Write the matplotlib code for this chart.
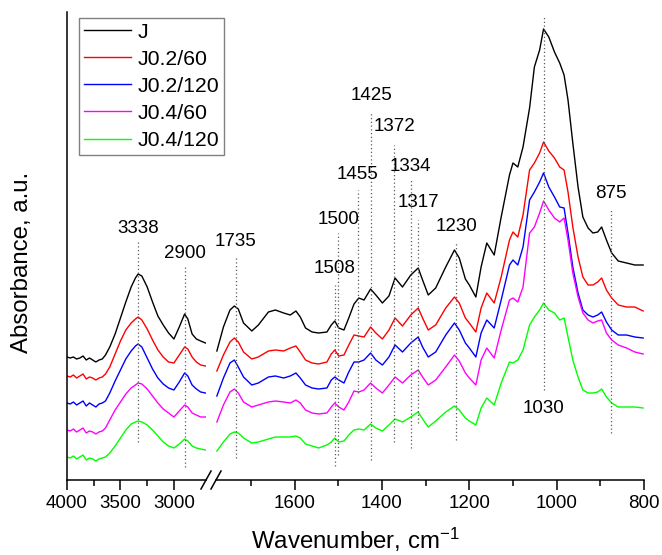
import matplotlib.pyplot as plt
from matplotlib.lines import Line2D
from matplotlib.ticker import FixedLocator

plt.rcParams['font.family'] = 'Liberation Sans'
plt.rcParams['mathtext.fontset'] = 'custom'
plt.rcParams['mathtext.rm'] = 'Liberation Sans'
plt.rcParams['mathtext.it'] = 'Liberation Sans'

# ---- data (absorbance, a.u.) ----
labels = ['J', 'J0.2/60', 'J0.2/120', 'J0.4/60', 'J0.4/120']
colors = ['black', '#ff0000', '#0000ff', '#ff00ff', '#00ff00']

# high wavenumber part (4000 - 2700 cm-1)
wn_left = [4000, 3970, 3940, 3910, 3880, 3850, 3820, 3790, 3760, 3730, 3700, 3670,
           3640, 3600, 3550, 3500, 3450, 3400, 3360, 3335, 3300, 3250,
           3200, 3150, 3100, 3050, 3000, 2950, 2900, 2870, 2830, 2790, 2750, 2705]

J_left = [1.23, 1.22, 1.23, 1.21, 1.22, 1.24, 1.20, 1.22, 1.20, 1.18, 1.20, 1.21,
          1.25, 1.33, 1.46, 1.62, 1.78, 1.93, 2.02, 2.06, 2.04, 1.93,
          1.78, 1.64, 1.55, 1.47, 1.41, 1.53, 1.66, 1.61, 1.46, 1.41, 1.39, 1.37]
J0260_left = [1.04, 1.03, 1.05, 1.02, 1.04, 1.06, 1.01, 1.03, 1.02, 1.00, 1.02, 1.03,
              1.06, 1.13, 1.26, 1.39, 1.50, 1.57, 1.61, 1.63, 1.60, 1.51,
              1.40, 1.30, 1.23, 1.18, 1.17, 1.25, 1.33, 1.31, 1.23, 1.18, 1.15, 1.14]
J02120_left = [0.77, 0.76, 0.78, 0.75, 0.77, 0.79, 0.74, 0.77, 0.75, 0.73, 0.76, 0.77,
               0.79, 0.87, 0.99, 1.10, 1.21, 1.29, 1.34, 1.36, 1.33, 1.22,
               1.11, 1.02, 0.96, 0.92, 0.90, 0.98, 1.07, 1.04, 0.95, 0.91, 0.88, 0.87]
J0460_left = [0.50, 0.49, 0.51, 0.48, 0.50, 0.52, 0.47, 0.49, 0.48, 0.46, 0.48, 0.49,
              0.52, 0.60, 0.70, 0.78, 0.86, 0.92, 0.95, 0.97, 0.96, 0.91,
              0.84, 0.77, 0.71, 0.67, 0.63, 0.69, 0.75, 0.73, 0.67, 0.65, 0.63, 0.63]
J04120_left = [0.23, 0.22, 0.24, 0.21, 0.23, 0.25, 0.20, 0.22, 0.21, 0.19, 0.21, 0.22,
               0.23, 0.27, 0.34, 0.42, 0.50, 0.56, 0.58, 0.59, 0.58, 0.55,
               0.50, 0.44, 0.38, 0.34, 0.32, 0.36, 0.41, 0.39, 0.34, 0.32, 0.31, 0.30]

# fingerprint part (1780 - 800 cm-1)
wn_right = [1778, 1763, 1748, 1738, 1729, 1717, 1698, 1683, 1660, 1644,
            1625, 1610, 1597, 1587, 1575, 1560, 1545, 1526, 1516, 1508,
            1499, 1487, 1476, 1464, 1453, 1441, 1426, 1414, 1399, 1384,
            1370, 1353, 1334, 1317, 1307, 1294, 1277, 1254, 1234, 1223,
            1209, 1200, 1185, 1173, 1160, 1143, 1127, 1108, 1100, 1089,
            1077, 1062, 1051, 1039, 1030, 1018, 1005, 993, 983, 974,
            963, 951, 940, 928, 917, 906, 897, 886, 874, 859,
            840, 821, 802]

J_right = [1.29, 1.53, 1.70, 1.74, 1.71, 1.57, 1.49, 1.55, 1.68, 1.70,
           1.67, 1.65, 1.69, 1.63, 1.52, 1.48, 1.47, 1.48, 1.55, 1.59,
           1.52, 1.50, 1.62, 1.76, 1.82, 1.80, 1.91, 1.85, 1.77, 1.84,
           2.02, 1.93, 2.05, 2.12, 2.00, 1.85, 1.92, 2.13, 2.30, 2.22,
           2.01, 1.95, 1.83, 2.13, 2.37, 2.25, 2.63, 3.05, 3.17, 3.13,
           3.33, 3.72, 4.13, 4.30, 4.51, 4.43, 4.28, 4.17, 4.05, 3.80,
           3.37, 2.93, 2.63, 2.52, 2.47, 2.48, 2.53, 2.40, 2.27, 2.19,
           2.17, 2.15, 2.15]
J0260_right = [1.09, 1.25, 1.38, 1.42, 1.38, 1.28, 1.21, 1.23, 1.29, 1.30,
               1.29, 1.32, 1.34, 1.28, 1.20, 1.17, 1.16, 1.18, 1.26, 1.30,
               1.24, 1.25, 1.35, 1.45, 1.44, 1.43, 1.53, 1.47, 1.41, 1.50,
               1.62, 1.54, 1.65, 1.72, 1.62, 1.50, 1.55, 1.72, 1.83, 1.77,
               1.62, 1.57, 1.48, 1.72, 1.87, 1.77, 2.03, 2.40, 2.48, 2.43,
               2.65, 3.10, 3.17, 3.27, 3.38, 3.29, 3.22, 3.13, 3.10, 2.88,
               2.53, 2.23, 2.03, 1.95, 1.95, 1.98, 2.02, 1.90, 1.82, 1.75,
               1.73, 1.73, 1.69]
J02120_right = [0.84, 1.02, 1.17, 1.20, 1.13, 1.03, 0.95, 0.97, 1.03, 1.04,
                1.02, 1.04, 1.07, 1.02, 0.95, 0.92, 0.91, 0.92, 1.00, 1.03,
                1.00, 0.97, 1.08, 1.18, 1.18, 1.20, 1.27, 1.20, 1.15, 1.23,
                1.35, 1.28, 1.37, 1.43, 1.33, 1.23, 1.28, 1.45, 1.57, 1.50,
                1.37, 1.32, 1.23, 1.47, 1.60, 1.52, 1.80, 2.15, 2.20, 2.15,
                2.33, 2.80, 2.88, 2.98, 3.07, 2.93, 2.83, 2.73, 2.72, 2.47,
                2.13, 1.87, 1.70, 1.65, 1.63, 1.65, 1.68, 1.58, 1.50, 1.45,
                1.45, 1.43, 1.42]
J0460_right = [0.58, 0.75, 0.88, 0.91, 0.87, 0.78, 0.73, 0.75, 0.78, 0.79,
               0.78, 0.77, 0.80, 0.77, 0.70, 0.67, 0.66, 0.67, 0.73, 0.77,
               0.73, 0.70, 0.78, 0.89, 0.88, 0.90, 0.97, 0.92, 0.87, 0.95,
               1.03, 0.97, 1.05, 1.10, 1.03, 0.95, 1.00, 1.13, 1.25, 1.19,
               1.07, 1.02, 0.95, 1.20, 1.32, 1.22, 1.50, 1.80, 1.82, 1.78,
               1.93, 2.47, 2.53, 2.67, 2.79, 2.70, 2.62, 2.58, 2.62, 2.40,
               2.07, 1.83, 1.67, 1.60, 1.57, 1.59, 1.60, 1.47, 1.40, 1.35,
               1.32, 1.28, 1.26]
J04120_right = [0.29, 0.38, 0.46, 0.48, 0.47, 0.42, 0.37, 0.38, 0.41, 0.43,
                0.43, 0.43, 0.44, 0.42, 0.36, 0.34, 0.32, 0.35, 0.38, 0.42,
                0.38, 0.39, 0.45, 0.50, 0.51, 0.50, 0.56, 0.52, 0.49, 0.55,
                0.61, 0.58, 0.63, 0.68, 0.61, 0.53, 0.59, 0.68, 0.74, 0.70,
                0.62, 0.59, 0.55, 0.72, 0.82, 0.75, 0.97, 1.18, 1.17, 1.20,
                1.30, 1.55, 1.63, 1.70, 1.77, 1.70, 1.67, 1.60, 1.62, 1.43,
                1.20, 1.03, 0.90, 0.87, 0.87, 0.88, 0.91, 0.83, 0.77, 0.73,
                0.73, 0.73, 0.72]

left_series = [J_left, J0260_left, J02120_left, J0460_left, J04120_left]
right_series = [J_right, J0260_right, J02120_right, J0460_right, J04120_right]

# band markers: wavenumber, line bottom, line top, label baseline
bands_left = [3338, 2900]
bands_left_lo = [0.38, 0.13]
bands_left_hi = [2.38, 2.13]
bands_left_txt = [2.47, 2.22]

bands_right = [1735, 1508, 1500, 1455, 1425, 1372, 1334, 1317, 1230, 1030, 875]
bands_right_lo = [0.22, 0.14, 0.25, 0.87, 0.20, 0.38, 0.32, 0.57, 0.40, 0.90, 0.47]
bands_right_hi = [2.23, 1.95, 2.47, 2.90, 3.67, 3.35, 3.02, 2.60, 2.38, 4.63, 2.70]
bands_right_txt = [2.34, 2.07, 2.56, 3.01, 3.80, 3.49, 3.09, 2.73, 2.49, 0.67, 2.82]

# ---- figure ----
W, H = 662, 555
fig = plt.figure(figsize=(W / 100, H / 100), dpi=100)
axL = fig.add_axes([67 / W, 75 / H, (206 - 67) / W, 468 / H])
axR = fig.add_axes([216 / W, 75 / H, (644 - 216) / W, 468 / H])

handles = []
for y, c, lab in zip(left_series, colors, labels):
    h, = axL.plot(wn_left, y, color=c, lw=1.0, label=lab)
    handles.append(h)
for y, c in zip(right_series, colors):
    axR.plot(wn_right, y, color=c, lw=1.0)

dot = dict(color='0.35', lw=0.9, linestyle=(0, (1, 2)))
axL.vlines(bands_left, bands_left_lo, bands_left_hi, **dot)
axR.vlines(bands_right, bands_right_lo, bands_right_hi, **dot)
for b, t in zip(bands_left, bands_left_txt):
    axL.text(b, t, str(b), ha='center', va='baseline', fontsize=13.5)
for b, t in zip(bands_right, bands_right_txt):
    axR.text(b, t, str(b), ha='center', va='baseline', fontsize=13.5)

axL.set_xlim(4000, 2700)
axR.set_xlim(1780, 800)
for ax in (axL, axR):
    ax.set_ylim(0, 4.68)
    ax.set_yticks([])
    ax.spines['top'].set_visible(False)
    ax.spines['right'].set_visible(False)
    ax.spines['bottom'].set_linewidth(1.1)
    ax.tick_params(axis='x', which='major', direction='out', length=7, width=1.1,
                   labelsize=13.5, pad=3.5)
    ax.tick_params(axis='x', which='minor', direction='out', length=4, width=1.1)
axR.spines['left'].set_visible(False)
axL.spines['left'].set_linewidth(1.1)

axL.xaxis.set_major_locator(FixedLocator([4000, 3500, 3000]))
axL.xaxis.set_minor_locator(FixedLocator([3750, 3250]))
axR.xaxis.set_major_locator(FixedLocator([1600, 1400, 1200, 1000, 800]))
axR.xaxis.set_minor_locator(FixedLocator([1700, 1500, 1300, 1100, 900]))

# axis break marks
for xb in (206, 216):
    fig.add_artist(Line2D([(xb - 5) / W, (xb + 5) / W], [1 - 489 / H, 1 - 471 / H],
                          transform=fig.transFigure, color='black', lw=1.1))

fig.text(355 / W, 1 - 540 / H, 'Wavenumber, cm$^{-1}$', ha='center', va='center',
         fontsize=17.3)
fig.text(22 / W, 1 - 262 / H, 'Absorbance, a.u.', ha='center', va='center',
         rotation=90, fontsize=17.3)

leg = fig.legend(handles=handles, loc='upper left', bbox_to_anchor=(79 / W, 1 - 18 / H),
                 bbox_transform=fig.transFigure, borderaxespad=0, fontsize=15.3,
                 frameon=True, fancybox=False, edgecolor='0.5', framealpha=1,
                 handlelength=2.25, handletextpad=0.27, labelspacing=0.38,
                 borderpad=0.22)
leg.get_frame().set_linewidth(1.0)

fig.savefig('out.png', dpi=100)
